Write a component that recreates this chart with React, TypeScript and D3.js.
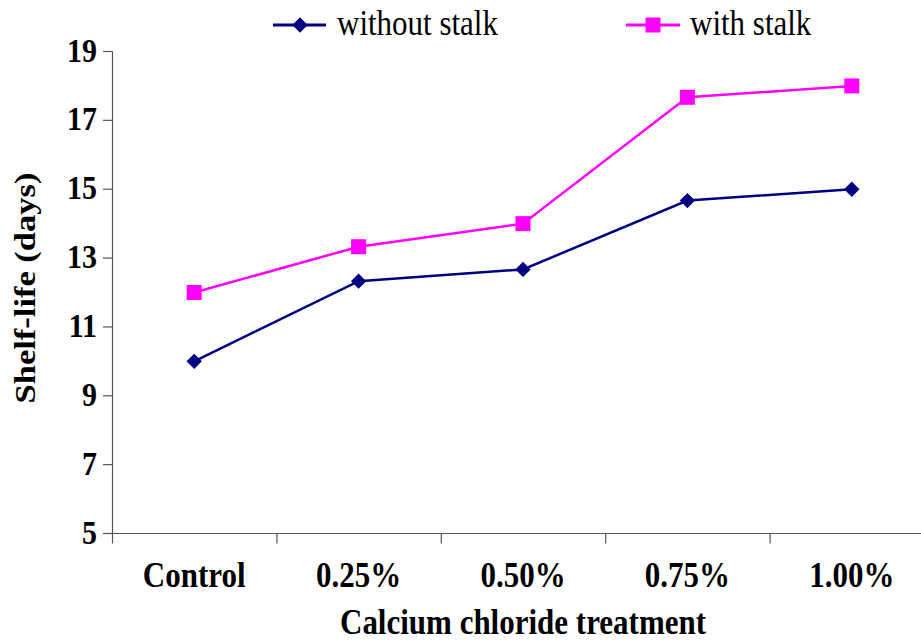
import React from "react";
import * as d3 from "d3";

const categories = ["Control", "0.25%", "0.50%", "0.75%", "1.00%"];
const withoutStalk = [10, 12.33, 12.67, 14.67, 15];
const withStalk = [12, 13.33, 14, 17.67, 18];
const yTicks = [5, 7, 9, 11, 13, 15, 17, 19];
const seriesNames = ["without stalk", "with stalk"];

const W = 921;
const H = 641;
const FONT = "'Liberation Serif', 'Times New Roman', serif";
const NAVY = "#000080";
const MAGENTA = "#FF00FF";
const AXIS = "#555555";
const SY = 1.15;

export default function App() {
  const x = d3.scaleBand<string>().domain(categories).range([112, 934]);
  const y = d3.scaleLinear().domain([5, 19]).range([533.5, 51.5]);
  const cx = (c: string) => (x(c) as number) + x.bandwidth() / 2;
  const line = d3
    .line<number>()
    .x((_, i) => cx(categories[i]))
    .y((d) => y(d));

  const diamond = d3.symbol().type(d3.symbolDiamond2).size(150)();
  const boundaries = categories.map((c) => x(c) as number).concat([934]);

  return (
    <svg
      width={W}
      height={H}
      style={{ position: "absolute", left: 0, top: 0, background: "#fff" }}
      fontFamily={FONT}
    >
      {/* axes */}
      <line x1={112.5} x2={112.5} y1={y(19)} y2={y(5)} stroke={AXIS} strokeWidth={1.2} />
      <line x1={112} x2={W} y1={y(5)} y2={y(5)} stroke={AXIS} strokeWidth={1.2} />
      {yTicks.map((t) => (
        <g key={t}>
          <line x1={103} x2={112.5} y1={y(t)} y2={y(t)} stroke={AXIS} strokeWidth={1.2} />
          <g transform={`translate(97,${y(t) + 10}) scale(1,${SY})`}>
            <text textAnchor="end" fontSize={30} fontWeight="bold" fill="#000">
              {t}
            </text>
          </g>
        </g>
      ))}
      {boundaries.map((b, i) => (
        <line key={i} x1={b + 0.5} x2={b + 0.5} y1={y(5)} y2={y(5) + 10} stroke={AXIS} strokeWidth={1.2} />
      ))}
      {categories.map((c) => (
        <g key={c} transform={`translate(${cx(c)},587) scale(1,${SY})`}>
          <text textAnchor="middle" fontSize={31} fontWeight="bold" fill="#000">
            {c}
          </text>
        </g>
      ))}
      {/* axis titles */}
      <g transform={`translate(${(112 + 934) / 2},634) scale(1,${SY})`}>
        <text textAnchor="middle" fontSize={31} fontWeight="bold" fill="#000">
          Calcium chloride treatment
        </text>
      </g>
      <g transform={`translate(35,${288}) rotate(-90) scale(${SY},1)`}>
        <text textAnchor="middle" fontSize={30} fontWeight="bold" fill="#000">
          Shelf-life (days)
        </text>
      </g>

      {/* series */}
      <path d={line(withoutStalk) || ""} fill="none" stroke={NAVY} strokeWidth={2.5} />
      <path d={line(withStalk) || ""} fill="none" stroke={MAGENTA} strokeWidth={2.5} />
      {withoutStalk.map((v, i) => (
        <path key={i} d={diamond || ""} transform={`translate(${cx(categories[i])},${y(v)})`} fill={NAVY} />
      ))}
      {withStalk.map((v, i) => (
        <rect key={i} x={cx(categories[i]) - 7.5} y={y(v) - 7.5} width={15} height={15} fill={MAGENTA} />
      ))}

      {/* legend */}
      <line x1={273} x2={326} y1={25} y2={25} stroke={NAVY} strokeWidth={3} />
      <path d={diamond || ""} transform="translate(300,25)" fill={NAVY} />
      <g transform={`translate(337,35) scale(1,${SY})`}>
        <text fontSize={31} fill="#000">{seriesNames[0]}</text>
      </g>
      <line x1={626} x2={680} y1={25} y2={25} stroke={MAGENTA} strokeWidth={3} />
      <rect x={645.5} y={17.5} width={15} height={15} fill={MAGENTA} />
      <g transform={`translate(690,35) scale(1,${SY})`}>
        <text fontSize={31} fill="#000">{seriesNames[1]}</text>
      </g>
    </svg>
  );
}
